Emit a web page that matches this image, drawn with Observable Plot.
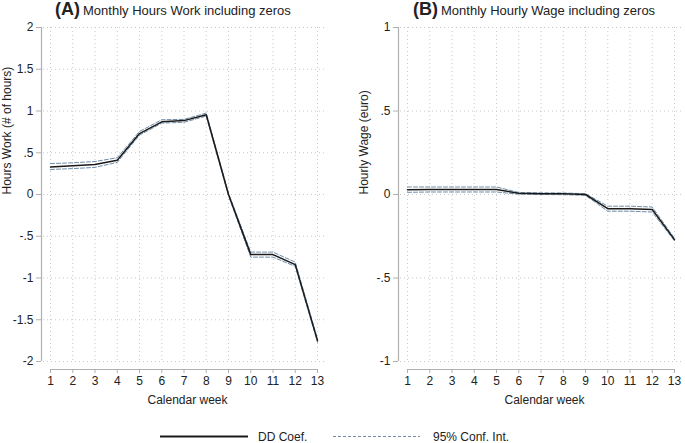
<!DOCTYPE html>
<html>
<head>
<meta charset="utf-8">
<script src="https://cdn.jsdelivr.net/npm/d3@7"></script>
<script src="https://cdn.jsdelivr.net/npm/@observablehq/plot@0.6"></script>
<style>
  html, body { margin: 0; padding: 0; background: #fff; }
  #wrap { position: relative; width: 685px; height: 443px; font-family: "Liberation Sans", Arial, sans-serif; color: #222; overflow: hidden; }
  .panel { position: absolute; top: 0; }
  .title { position: absolute; top: -1px; white-space: nowrap; font-size: 13px; line-height: 20px; }
  .title b { font-size: 18px; margin-right: 3px; }
  #legend { position: absolute; left: 0; top: 424px; }
</style>
</head>
<body>
<div id="wrap">
  <div class="title" style="left:55px"><b>(A)</b>Monthly Hours Work including zeros</div>
  <div class="title" style="left:413px"><b>(B)</b>Monthly Hourly Wage including zeros</div>
  <div id="panelA" class="panel" style="left:0px"></div>
  <div id="panelB" class="panel" style="left:357px"></div>
  <svg id="legend" width="685" height="19"></svg>
</div>
<script>
// ---- data ----
const weeks = [1, 2, 3, 4, 5, 6, 7, 8, 9, 10, 11, 12, 13];

const hoursCoef = [0.33, 0.345, 0.36, 0.41, 0.73, 0.87, 0.885, 0.955, 0.0, -0.72, -0.72, -0.84, -1.75];
const hoursLo   = [0.30, 0.31, 0.325, 0.385, 0.71, 0.855, 0.865, 0.94, -0.015, -0.75, -0.75, -0.86, -1.77];
const hoursHi   = [0.37, 0.38, 0.395, 0.44, 0.755, 0.895, 0.90, 0.975, 0.015, -0.69, -0.69, -0.81, -1.73];
const hoursTicks = [-2, -1.5, -1, -0.5, 0, 0.5, 1, 1.5, 2];

const wageCoef = [0.028, 0.03, 0.03, 0.03, 0.03, 0.007, 0.005, 0.004, 0.0, -0.085, -0.085, -0.09, -0.27];
const wageLo   = [0.013, 0.015, 0.015, 0.015, 0.015, 0.002, 0.0, -0.001, -0.005, -0.10, -0.10, -0.105, -0.278];
const wageHi   = [0.045, 0.045, 0.045, 0.045, 0.045, 0.012, 0.01, 0.009, 0.005, -0.07, -0.07, -0.075, -0.262];
const wageTicks = [-1, -0.5, 0, 0.5, 1];

const legendLabels = ["DD Coef.", "95% Conf. Int."];

// ---- styles ----
const ciColor = "#6f8ca8";
const axisGray = "#b0b0b0";
const gridGray = "#c8c8c8";
const fmt = d => d === 0 ? "0" : String(d).replace("0.", ".");

function panel({coef, lo, hi, ticks, ylabel, width, marginRight}) {
  const rows = weeks.map((w, i) => ({week: w, coef: coef[i], lo: lo[i], hi: hi[i]}));
  return Plot.plot({
    width, height: 415,
    marginTop: 27, marginBottom: 54, marginLeft: 43, marginRight,
    x: {domain: [weeks[0], weeks[weeks.length - 1]], insetLeft: 7, insetRight: 8},
    y: {domain: [ticks[0], ticks[ticks.length - 1]]},
    style: {fontFamily: "'Liberation Sans', Arial, sans-serif", fontSize: "12px", color: "#222", background: "transparent", overflow: "visible"},
    marks: [
      Plot.gridX(weeks, {stroke: gridGray, strokeOpacity: 1, strokeDasharray: "1,3"}),
      Plot.gridY(ticks, {stroke: gridGray, strokeOpacity: 1, strokeDasharray: "1,3"}),
      // y axis line
      Plot.ruleX([weeks[0]], {dx: -9, stroke: axisGray, strokeWidth: 1.2}),
      Plot.axisY(ticks, {tickFormat: fmt, tickSize: 5, tickPadding: 3, dx: -2, stroke: axisGray, fill: "#222", label: null}),
      // x axis line
      Plot.ruleY([ticks[0]], {x1: weeks[0], x2: weeks[weeks.length - 1], dy: 8, stroke: axisGray, strokeWidth: 1.2}),
      Plot.axisX(weeks, {tickSize: 4, tickPadding: 3, dy: 8, stroke: axisGray, fill: "#222", label: null}),
      Plot.text([ylabel], {frameAnchor: "left", rotate: -90, dx: -36, fontSize: 12, fill: "#222"}),
      Plot.text(["Calendar week"], {frameAnchor: "bottom", dy: 42, dx: 3, fontSize: 12, fill: "#222"}),
      Plot.line(rows, {x: "week", y: "lo", stroke: ciColor, strokeWidth: 1, strokeDasharray: "4,2"}),
      Plot.line(rows, {x: "week", y: "hi", stroke: ciColor, strokeWidth: 1, strokeDasharray: "4,2"}),
      Plot.line(rows, {x: "week", y: "coef", stroke: "#1a1a1a", strokeWidth: 1.5})
    ]
  });
}

document.getElementById("panelA").append(panel({
  coef: hoursCoef, lo: hoursLo, hi: hoursHi, ticks: hoursTicks,
  ylabel: "Hours Work (# of hours)", width: 357, marginRight: 32
}));
document.getElementById("panelB").append(panel({
  coef: wageCoef, lo: wageLo, hi: wageHi, ticks: wageTicks,
  ylabel: "Hourly Wage (euro)", width: 328, marginRight: 3
}));

// legend
const lg = d3.select("#legend");
lg.append("line").attr("x1", 160).attr("x2", 248).attr("y1", 12.5).attr("y2", 12.5)
  .attr("stroke", "#1a1a1a").attr("stroke-width", 2);
lg.append("text").attr("x", 258).attr("y", 16.5).text(legendLabels[0])
  .attr("font-size", 12).attr("fill", "#222").attr("font-family", "'Liberation Sans', Arial, sans-serif");
lg.append("line").attr("x1", 333).attr("x2", 420).attr("y1", 12.5).attr("y2", 12.5)
  .attr("stroke", ciColor).attr("stroke-width", 1).attr("stroke-dasharray", "3,2");
lg.append("text").attr("x", 433).attr("y", 16.5).text(legendLabels[1])
  .attr("font-size", 12).attr("fill", "#222").attr("font-family", "'Liberation Sans', Arial, sans-serif");
</script>
</body>
</html>
